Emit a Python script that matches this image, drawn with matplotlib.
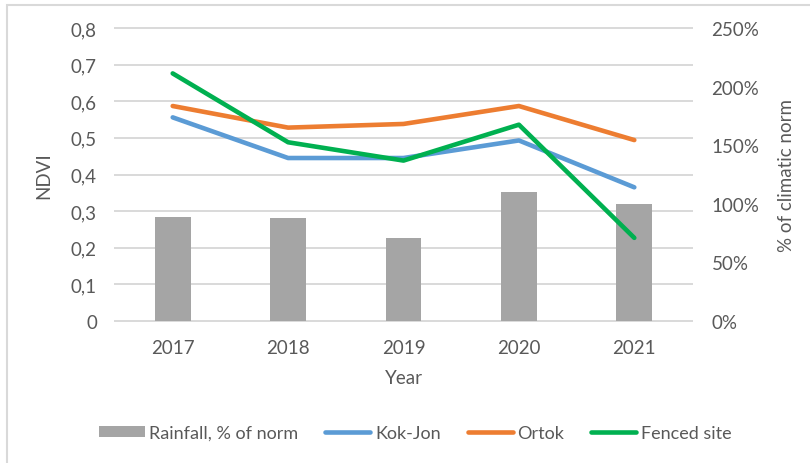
import matplotlib
matplotlib.use("Agg")
import matplotlib.pyplot as plt
from matplotlib.patches import Rectangle
from matplotlib.ticker import FuncFormatter, MultipleLocator
from matplotlib.transforms import blended_transform_factory

years = ["2017", "2018", "2019", "2020", "2021"]
rainfall_pct = [89, 88, 71, 110, 100]
kok_jon = [0.556, 0.445, 0.445, 0.493, 0.365]
ortok = [0.587, 0.528, 0.538, 0.587, 0.494]
fenced = [0.676, 0.488, 0.438, 0.536, 0.227]

plt.rcParams['font.family'] = ['Lato', 'DejaVu Sans']
FS = 13.5
TXT = '#595959'

fig = plt.figure(figsize=(8.1, 4.64), dpi=100)
ax = fig.add_axes([115/810, 1-322/464, 577/810, 293/464])
ax2 = ax.twinx()

x = list(range(len(years)))
ax2.set_zorder(1)
ax.set_zorder(2)
ax.patch.set_visible(False)

bars = ax2.bar(x, rainfall_pct, width=0.31, color='#a5a5a5', zorder=2,
               label='Rainfall, % of norm')
ax2.set_ylim(0, 250)
ax2.yaxis.set_major_locator(MultipleLocator(50))
ax2.yaxis.set_major_formatter(FuncFormatter(lambda v, p: f"{int(round(v))}%"))

LW = 3.3
l1, = ax.plot(x, kok_jon, color='#5b9bd5', lw=LW, solid_capstyle='round', label='Kok-Jon')
l2, = ax.plot(x, ortok, color='#ed7d31', lw=LW, solid_capstyle='round', label='Ortok')
l3, = ax.plot(x, fenced, color='#00b050', lw=LW, solid_capstyle='round', label='Fenced site')
ax.set_ylim(0, 0.8)
ax.set_xlim(-0.5, len(years) - 0.5)
ax.yaxis.set_major_locator(MultipleLocator(0.1))
ax.yaxis.set_major_formatter(FuncFormatter(
    lambda v, p: "0" if abs(v) < 1e-9 else f"{v:.1f}".replace('.', ',')))
ax.set_xticks(x)
ax.set_xticklabels(years)

# gridlines behind bars
trans = blended_transform_factory(ax2.transAxes, ax.transData)
for t in [i/10 for i in range(9)]:
    ax2.plot([0, 1], [t, t], transform=trans, color='#d9d9d9', lw=1.4, zorder=0,
             clip_on=False)

for a in (ax, ax2):
    for s in a.spines.values():
        s.set_visible(False)
    a.tick_params(length=0, labelsize=FS, labelcolor=TXT)
ax.tick_params(axis='y', pad=13)
ax.tick_params(axis='x', pad=13)
ax2.tick_params(axis='y', pad=14)

ax.set_ylabel('NDVI', fontsize=FS, color=TXT)
ax.yaxis.set_label_coords(-0.109, 0.5)
ax2.set_ylabel('% of climatic norm', fontsize=FS, color=TXT)
ax2.yaxis.set_label_coords(1.149, 0.5)
ax.set_xlabel('Year', fontsize=FS, color=TXT, labelpad=9)

fig.legend([bars, l1, l2, l3],
           ['Rainfall, % of norm', 'Kok-Jon', 'Ortok', 'Fenced site'],
           loc='center', bbox_to_anchor=(0.513, 1-434/464), ncol=4, frameon=False,
           fontsize=13, labelcolor=TXT, handlelength=2.5, handletextpad=0.25,
           columnspacing=1.5, handleheight=0.6)

fig.add_artist(Rectangle((7/810, -0.1), 1.2, 1.1 - 6/464 + 0.0, transform=fig.transFigure,
                         fill=False, edgecolor='#d9d9d9', lw=1.5))

fig.savefig('out.png', dpi=100)
